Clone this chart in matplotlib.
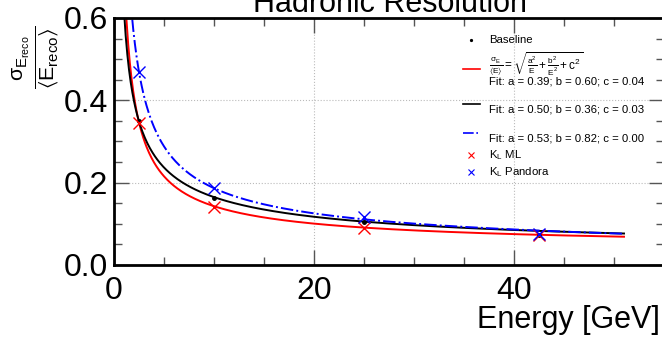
import numpy as np
import matplotlib
matplotlib.use("Agg")
import matplotlib.pyplot as plt
from matplotlib.ticker import MultipleLocator

plt.rcParams['font.family'] = ['Liberation Sans', 'DejaVu Sans']
plt.rcParams['mathtext.fontset'] = 'custom'
plt.rcParams['mathtext.rm'] = 'Liberation Sans'
plt.rcParams['mathtext.it'] = 'Liberation Sans:italic'
plt.rcParams['mathtext.default'] = 'regular'

# ---- data ----
energies = [2.5, 10, 25, 42.5]
baseline = [0.350, 0.163, 0.105, 0.074]
kl_ml = [0.345, 0.141, 0.090, 0.073]
kl_pandora = [0.469, 0.187, 0.117, 0.075]

fit_names = ["ML", "Baseline", "Pandora"]
fit_a = [0.39, 0.50, 0.53]
fit_b = [0.60, 0.36, 0.82]
fit_c = [0.04, 0.03, 0.00]
fit_colors = ["#ff0000", "#000000", "#0000ff"]
fit_styles = ["-", "-", "-."]
fit_range = (1.0, 51.0)

fig = plt.figure(figsize=(6.62, 3.37), dpi=100)
W, H = 662, 337
left, right, bottom, top = 114, 664, 265, 18
ax = fig.add_axes([left / W, 1 - bottom / H, (right - left) / W, (bottom - top) / H])

E = np.linspace(fit_range[0], fit_range[1], 600)
for a, b, c, col, ls in zip(fit_a, fit_b, fit_c, fit_colors, fit_styles):
    ax.plot(E, np.sqrt(a**2 / E + b**2 / E**2 + c**2), color=col, ls=ls, lw=1.4)

ax.plot(energies, baseline, 'o', color='black', ms=2.5, zorder=5)
ax.plot(energies, kl_ml, 'x', color='#ff0000', ms=8, mew=1.0, zorder=6)
ax.plot(energies, kl_pandora, 'x', color='#0000ff', ms=8, mew=1.0, zorder=6)

ax.set_xlim(0, 55)
ax.set_ylim(0, 0.6)
ax.xaxis.set_major_locator(MultipleLocator(20))
ax.xaxis.set_minor_locator(MultipleLocator(5))
ax.yaxis.set_major_locator(MultipleLocator(0.2))
ax.yaxis.set_minor_locator(MultipleLocator(0.05))
ax.yaxis.set_major_formatter(matplotlib.ticker.FormatStrFormatter('%.1f'))
ax.grid(True, which='major', color='#bbbbbb', ls=':', lw=0.8)
ax.tick_params(which='both', direction='in', top=True, right=True, width=1.0, color='#555555')
ax.tick_params(which='major', length=11, labelsize=23)
ax.tick_params(which='minor', length=6)
ax.tick_params(axis='x', which='major', pad=8)
ax.tick_params(axis='y', which='major', pad=4)
for s in ax.spines.values():
    s.set_linewidth(2.0)

fig.text(660 / W, 1 - 320 / H, "Energy [GeV]", ha='right', va='center', fontsize=22)
fig.text(390 / W, 1 - 12 / H, "Hadronic Resolution", ha='center', va='baseline', fontsize=22)
fig.text(36 / W, 1 - 57 / H, r'$\frac{\sigma_{E_{reco}}}{\langle E_{reco}\rangle}$',
         ha='center', va='center', rotation=90, fontsize=22)

# ---- legend (manual, ROOT style) ----
def px(x, y):
    return (x - left) / (right - left), (bottom - y) / (bottom - top)

fs = 8.2
tx = 489
def handle_line(y, col, ls):
    x0, yy = px(463, y)
    x1, _ = px(480, y)
    ax.plot([x0, x1], [yy, yy], color=col, ls=ls, lw=1.2, transform=ax.transAxes, clip_on=False)

def handle_marker(y, m, col, ms):
    x0, yy = px(471, y)
    ax.plot([x0], [yy], m, color=col, ms=ms, mew=0.8, transform=ax.transAxes, clip_on=False)

def text(y, s, size=fs):
    x0, yy = px(tx, y)
    ax.text(x0, yy, s, transform=ax.transAxes, ha='left', va='center', fontsize=size)

handle_marker(40, 'o', 'black', 1.5)
text(40, "Baseline")
handle_line(69, fit_colors[0], fit_styles[0])
text(64, r'$\frac{\sigma_E}{\langle E\rangle} = \sqrt{\frac{a^2}{E}+\frac{b^2}{E^2}+c^2}$', 8.5)
text(81, "Fit: a = %.2f; b = %.2f; c = %.2f" % (fit_a[0], fit_b[0], fit_c[0]))
handle_line(104, fit_colors[1], fit_styles[1])
text(110, "Fit: a = %.2f; b = %.2f; c = %.2f" % (fit_a[1], fit_b[1], fit_c[1]))
handle_line(133, fit_colors[2], fit_styles[2])
text(139, "Fit: a = %.2f; b = %.2f; c = %.2f" % (fit_a[2], fit_b[2], fit_c[2]))
handle_marker(155, 'x', '#ff0000', 4)
text(155, r'K$_L$ ML')
handle_marker(172, 'x', '#0000ff', 4)
text(172, r'K$_L$ Pandora')

fig.savefig("out.png", dpi=100)
